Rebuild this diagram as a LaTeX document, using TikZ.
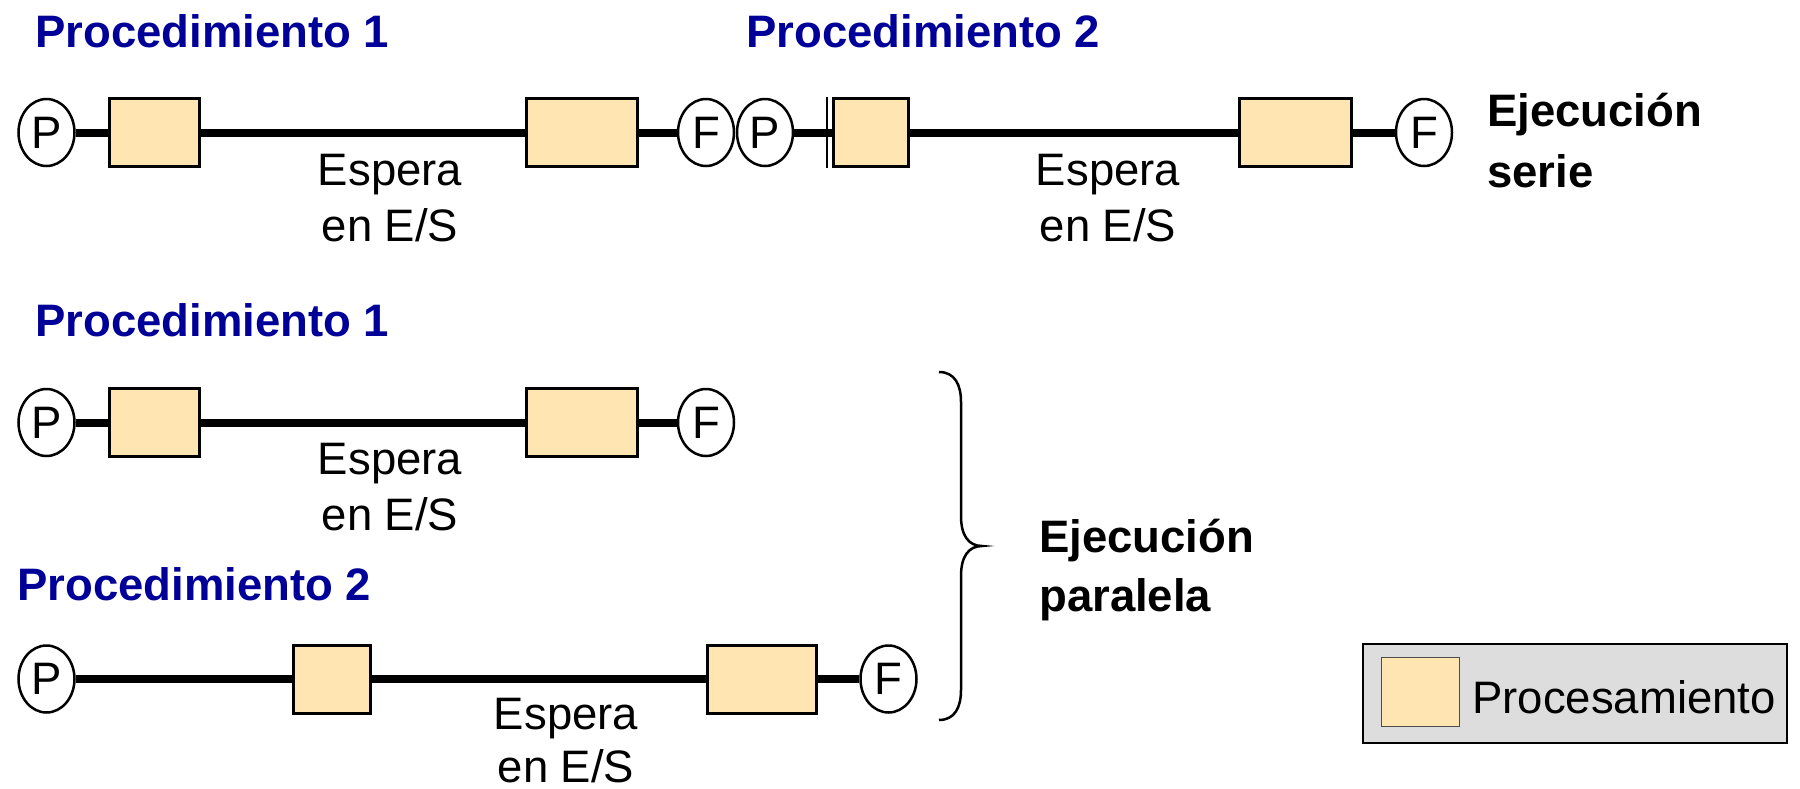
\documentclass[tikz,border=0pt]{standalone}
\usepackage{fontspec}
\setmainfont{Liberation Sans}
\usetikzlibrary{shapes.geometric}
\definecolor{peach}{RGB}{255,229,178}
\definecolor{titleblue}{RGB}{0,0,153}
\definecolor{legendgray}{RGB}{221,221,221}
\newcommand\myfs{\fontsize{45.5}{52}\selectfont}
\tikzset{
  pbox/.style={draw, line width=3pt, fill=peach, inner sep=0pt, minimum height=68pt},
  endpt/.style={ellipse, draw, line width=2.5pt, fill=white, inner sep=0pt,
    minimum width=56pt, minimum height=67pt, font=\myfs},
  conn/.style={line width=8pt},
  title/.style={anchor=base west, inner sep=0pt, font=\myfs\bfseries, text=titleblue},
  lbl/.style={anchor=base, inner sep=0pt, font=\myfs},
  blbl/.style={anchor=base west, inner sep=0pt, font=\myfs\bfseries},
}
\begin{document}
\begin{tikzpicture}[x=1pt,y=-1pt]
\useasboundingbox (0,0) rectangle (1800,788);

% ---------- Row 1: serial execution ----------
\node[title] (t1) at (35,47) {Procedimiento 1};
\node[title] (t2) at (746,47) {Procedimiento 2};

\node[endpt] (ap) at (46.5,132.5) {P};
\node[pbox, minimum width=90pt] (ab1) at (154.5,132.5) {};
\node[pbox, minimum width=111pt] (ab2) at (582,132.5) {};
\node[endpt] (af) at (706,132.5) {F};
\node[endpt] (bp) at (765,132.5) {P};
\node[pbox, minimum width=75pt] (bb1) at (871,132.5) {};
\node[pbox, minimum width=112pt] (bb2) at (1295.5,132.5) {};
\node[endpt] (bf) at (1424,132.5) {F};
\draw[line width=1.2pt] (bb1.north west) ++(-5,0) coordinate (bbt) -- ++(0,71) coordinate (bbb);

\draw[conn] (ap) -- (ab1);
\draw[conn] (ab1) -- (ab2);
\draw[conn] (ab2) -- (af);
\draw[conn] (bp) -- (bb1);
\draw[conn] (bb1) -- (bb2);
\draw[conn] (bb2) -- (bf);

\node[lbl] (ae1) at (390,185) {Espera};
\node[lbl] (ae2) at (390,241) {en E/S};
\node[lbl] (be1) at (1108,185) {Espera};
\node[lbl] (be2) at (1108,241) {en E/S};

\node[blbl] (s1) at (1487,126) {Ejecución};
\node[blbl] (s2) at (1487,187) {serie};

% ---------- Row 2: parallel, procedure 1 ----------
\node[title] (t3) at (35,336) {Procedimiento 1};
\node[endpt] (cp) at (46.5,422.5) {P};
\node[pbox, minimum width=90pt] (cb1) at (154.5,422.5) {};
\node[pbox, minimum width=111pt] (cb2) at (582,422.5) {};
\node[endpt] (cf) at (706,422.5) {F};
\draw[conn] (cp) -- (cb1);
\draw[conn] (cb1) -- (cb2);
\draw[conn] (cb2) -- (cf);
\node[lbl] (ce1) at (390,474) {Espera};
\node[lbl] (ce2) at (390,530) {en E/S};

% ---------- Row 3: parallel, procedure 2 ----------
\node[title] (t4) at (17,600) {Procedimiento 2};
\node[endpt] (dp) at (46.5,679) {P};
\node[pbox, minimum width=77pt] (db1) at (332,679) {};
\node[pbox, minimum width=109pt] (db2) at (762,679) {};
\node[endpt] (df) at (888.5,679) {F};
\draw[conn] (dp) -- (db1);
\draw[conn] (db1) -- (db2);
\draw[conn] (db2) -- (df);
\node[lbl] (de1) at (566,729) {Espera};
\node[lbl] (de2) at (566,782) {en E/S};

% ---------- Brace ----------
\coordinate (brt) at (939,372);
\coordinate (brm) at (982,546);
\coordinate (brb) at (939,720);
\draw[line width=2.5pt] (brt) .. controls (955,372) and (961,385) .. (961,402)
  -- (961,516) .. controls (961,536) and (969,546) .. (brm)
  .. controls (969,546) and (961,556) .. (961,576)
  -- (961,690) .. controls (961,707) and (955,720) .. (brb);

\node[blbl] (p1) at (1039,552) {Ejecución};
\node[blbl] (p2) at (1039,611) {paralela};

% ---------- Legend ----------
\node[draw, line width=2.5pt, fill=legendgray, minimum width=424pt, minimum height=99pt, inner sep=0pt] (leg) at (1575,693.5) {};
\node[draw=black!70, line width=1pt, fill=peach, minimum width=78pt, minimum height=69pt, inner sep=0pt] (sw) at (1420.5,692) {};
\node[anchor=base west, inner sep=0pt, font=\myfs] (lt) at (1472,713) {Procesamiento};
\end{tikzpicture}
\end{document}
